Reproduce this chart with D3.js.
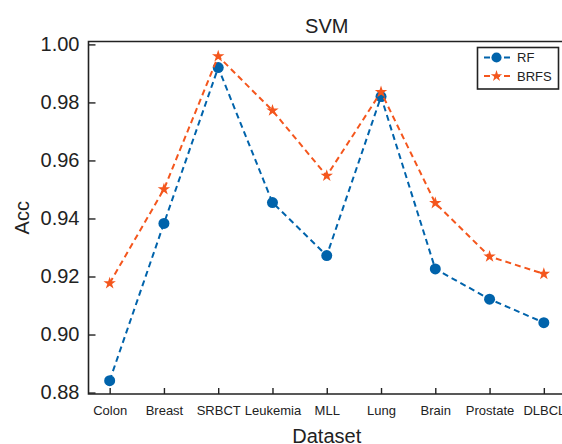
<!DOCTYPE html>
<html>
<head>
<meta charset="utf-8">
<script src="https://cdn.jsdelivr.net/npm/d3@7"></script>
<style>
  body { margin: 0; background: #fff; }
  svg { display: block; font-family: "Liberation Sans", Arial, sans-serif; }
</style>
</head>
<body>
<div id="chart"></div>
<script>
// data
const datasets = ["Colon", "Breast", "SRBCT", "Leukemia", "MLL", "Lung", "Brain", "Prostate", "DLBCL"];
const rfAcc = [0.8841, 0.9383, 0.9920, 0.9455, 0.9272, 0.9820, 0.9226, 0.9122, 0.9041];
const brfsAcc = [0.9177, 0.9501, 0.9959, 0.9772, 0.9547, 0.9836, 0.9453, 0.9269, 0.9209];
const yTicks = [0.88, 0.90, 0.92, 0.94, 0.96, 0.98, 1.00];

const width = 562, height = 444;
const plotL = 88.5, plotR = 565, plotT = 41.5, plotB = 394;
const blue = "#0063ab", orange = "#f4561d", ink = "#222";

const svg = d3.select("#chart").append("svg")
    .attr("width", width)
    .attr("height", height);

const x = d3.scalePoint(datasets, [plotL, plotR]).padding(0.39);
const y = d3.scaleLinear([0.8795, 1.001], [plotB, plotT]);

// axes frame (right edge falls outside the window)
svg.append("path")
    .attr("d", `M${plotR},${plotT}H${plotL}V${plotB}H${plotR}`)
    .attr("fill", "none")
    .attr("stroke", ink)
    .attr("stroke-width", 1.6);

// y axis ticks point inward
const yAxis = svg.append("g")
    .attr("transform", `translate(${plotL},0)`)
    .call(d3.axisRight(y).tickValues(yTicks).tickSize(7).tickFormat(d3.format(".2f")));
yAxis.select(".domain").remove();
yAxis.selectAll("line").attr("stroke", ink).attr("stroke-width", 1.4);
yAxis.selectAll("text")
    .attr("x", -9)
    .attr("text-anchor", "end")
    .attr("fill", ink)
    .style("font-size", "20px");

const xAxis = svg.append("g")
    .attr("transform", `translate(0,${plotB})`)
    .call(d3.axisTop(x).tickSize(6));
xAxis.select(".domain").remove();
xAxis.selectAll("line").attr("stroke", ink).attr("stroke-width", 1.4);
xAxis.selectAll("text")
    .attr("y", 21)
    .attr("dy", 0)
    .attr("fill", ink)
    .style("font-size", "13px");

// labels
svg.append("text")
    .attr("x", (plotL + plotR) / 2)
    .attr("y", 33)
    .attr("text-anchor", "middle")
    .attr("fill", ink)
    .style("font-size", "20px")
    .text("SVM");

svg.append("text")
    .attr("x", (plotL + plotR) / 2)
    .attr("y", 443)
    .attr("text-anchor", "middle")
    .attr("fill", ink)
    .style("font-size", "20px")
    .text("Dataset");

svg.append("text")
    .attr("transform", `translate(29,${(plotT + plotB) / 2}) rotate(-90)`)
    .attr("text-anchor", "middle")
    .attr("fill", ink)
    .style("font-size", "20px")
    .text("Acc");

// series
const series = [
    { name: "RF", values: rfAcc, color: blue, symbol: d3.symbolCircle, size: 95 },
    { name: "BRFS", values: brfsAcc, color: orange, symbol: d3.symbolStar, size: 48 }
];

const line = d3.line()
    .x((d, i) => x(datasets[i]))
    .y(d => y(d));

series.forEach(s => {
    svg.append("path")
        .datum(s.values)
        .attr("d", line)
        .attr("fill", "none")
        .attr("stroke", s.color)
        .attr("stroke-width", 2)
        .attr("stroke-dasharray", "6,4");

    svg.append("g")
        .selectAll("path")
        .data(s.values)
        .join("path")
        .attr("transform", (d, i) => `translate(${x(datasets[i])},${y(d)})`)
        .attr("d", d3.symbol(s.symbol, s.size))
        .attr("fill", s.color);
});

// legend
const legend = svg.append("g");
legend.append("rect")
    .attr("x", 477.5).attr("y", 47.5)
    .attr("width", 81).attr("height", 41.5)
    .attr("fill", "#fff")
    .attr("stroke", ink)
    .attr("stroke-width", 1.6);

series.forEach((s, i) => {
    const ly = 57.5 + i * 18.5;
    legend.append("line")
        .attr("x1", 483).attr("x2", 510)
        .attr("y1", ly).attr("y2", ly)
        .attr("stroke", s.color)
        .attr("stroke-width", 2)
        .attr("stroke-dasharray", "6,4")
        .attr("stroke-dashoffset", -1);
    legend.append("path")
        .attr("transform", `translate(496.5,${ly})`)
        .attr("d", d3.symbol(s.symbol, s.size * 0.85))
        .attr("fill", s.color);
    legend.append("text")
        .attr("x", 517)
        .attr("y", ly + 4.6)
        .attr("fill", ink)
        .style("font-size", "13px")
        .text(s.name);
});
</script>
</body>
</html>
